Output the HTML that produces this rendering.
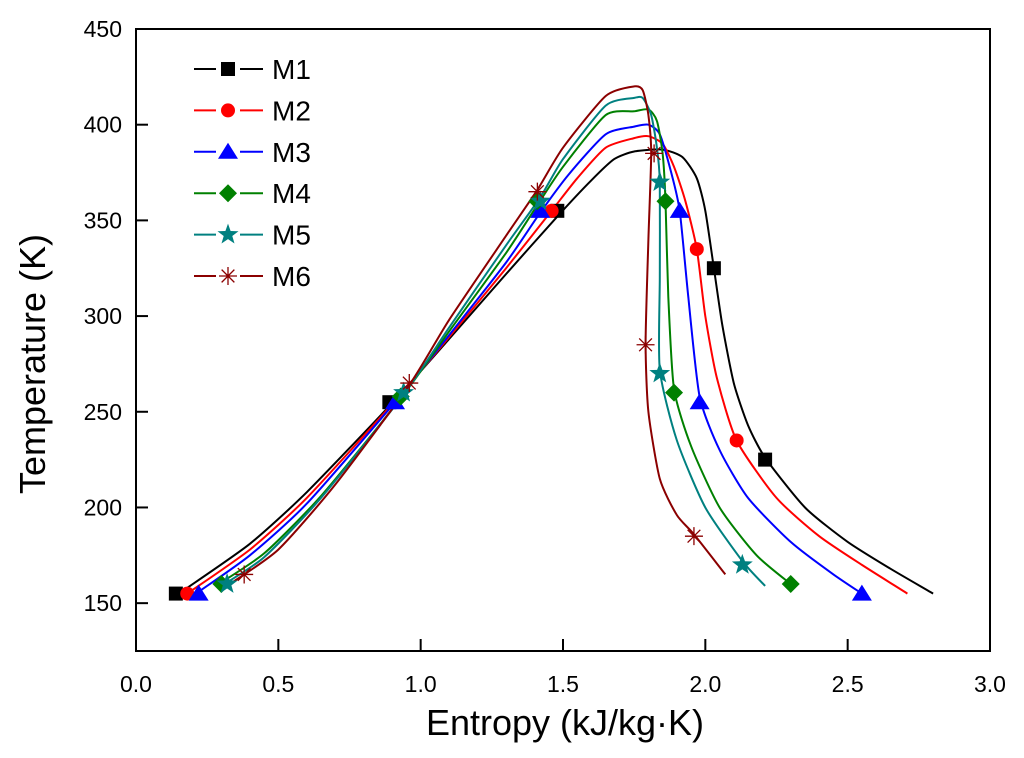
<!DOCTYPE html>
<html><head><meta charset="utf-8"><style>
body{margin:0;background:#fff;}
svg{display:block;font-family:"Liberation Sans",Arial,sans-serif;}
</style></head><body>
<svg id="chart" width="1024" height="758" viewBox="0 0 1024 758">
<g id="marks"></g>
<g id="axes"></g>
<g id="legend"></g>
</svg>
<script>
const seriesNames=["M1","M2","M3","M4","M5","M6"];
const seriesColors=["#000000","#ff0000","#0000ff","#008000","#008080","#8b0000"];
const markerTypes=["square","circle","triangle","diamond","star","asterisk"];
const xTicks=[0.0,0.5,1.0,1.5,2.0,2.5,3.0];
const yTicks=[150,200,250,300,350,400,450];
const m1Line=[[0.17,157],[0.4,181],[0.6,208],[0.89,253],[1.1,288],[1.3,322],[1.48,352],[1.6,371],[1.68,382],[1.75,386],[1.85,387],[1.92,383],[1.97,372],[2.0,355],[2.03,325],[2.06,295],[2.1,265],[2.15,243],[2.21,226],[2.35,200],[2.5,182],[2.65,168],[2.8,155]];
const m2Line=[[0.19,156],[0.4,178],[0.6,205],[0.9,254],[1.1,289],[1.3,325],[1.46,355],[1.55,372],[1.65,388],[1.75,393],[1.8,394],[1.85,390],[1.89,378],[1.93,360],[1.97,335],[2.0,300],[2.04,268],[2.11,235],[2.25,205],[2.4,185],[2.55,170],[2.71,155]];
const m3Line=[[0.23,157],[0.4,175],[0.6,202],[0.91,255],[1.1,290],[1.3,328],[1.42,354],[1.52,374],[1.65,395],[1.75,399],[1.8,400],[1.84,395],[1.88,375],[1.91,355],[1.94,310],[1.98,258],[2.05,230],[2.15,205],[2.3,182],[2.45,165],[2.55,155]];
const m4Line=[[0.28,159],[0.45,176],[0.65,206],[0.93,257],[1.1,292],[1.3,333],[1.41,358],[1.5,378],[1.65,405],[1.75,407],[1.8,408],[1.83,402],[1.85,385],[1.86,360],[1.87,310],[1.89,262],[1.95,232],[2.05,200],[2.18,175],[2.3,160]];
const m5Line=[[0.3,159],[0.45,174],[0.65,205],[0.94,259],[1.1,294],[1.3,337],[1.42,362],[1.5,382],[1.65,410],[1.75,414],[1.78,414],[1.81,405],[1.83,388],[1.84,370],[1.84,320],[1.84,272],[1.9,235],[2.0,200],[2.13,172],[2.21,159]];
const m6Line=[[0.33,160],[0.5,178],[0.7,212],[0.96,264],[1.1,298],[1.3,342],[1.41,366],[1.5,388],[1.65,415],[1.75,420],[1.78,418],[1.8,405],[1.81,385],[1.8,340],[1.79,286],[1.8,250],[1.84,215],[1.9,196],[1.96,186],[2.07,165]];
const m1Marks=[[0.14,155],[0.89,255],[1.48,355],[2.03,325],[2.21,225]];
const m2Marks=[[0.18,155],[1.46,355],[1.97,335],[2.11,235]];
const m3Marks=[[0.22,155],[0.91,255],[1.42,355],[1.91,355],[1.98,255],[2.55,155]];
const m4Marks=[[0.3,160],[0.93,258],[1.41,360],[1.86,360],[1.89,260],[2.3,160]];
const m5Marks=[[0.32,160],[0.94,260],[1.42,360],[1.84,370],[1.84,270],[2.13,170]];
const m6Marks=[[0.38,165],[0.96,265],[1.41,365],[1.82,385],[1.79,285],[1.96,185]];
const lines=[m1Line,m2Line,m3Line,m4Line,m5Line,m6Line];
const marks=[m1Marks,m2Marks,m3Marks,m4Marks,m5Marks,m6Marks];

const L=136,R=990,T=29,B=651,X0=0,X1=3,Y0=125,Y1=450;
const sx=v=>L+(v-X0)/(X1-X0)*(R-L);
const sy=v=>B-(v-Y0)/(Y1-Y0)*(B-T);
const NS="http://www.w3.org/2000/svg";
function mk(tag,attrs,parent){const e=document.createElementNS(NS,tag);for(const k in attrs)e.setAttribute(k,attrs[k]);parent.appendChild(e);return e;}
function marker(type,x,y,c,parent){
  let e;
  if(type==="square"){e=mk("rect",{x:x-7,y:y-7,width:14,height:14,fill:c},parent);}
  else if(type==="circle"){e=mk("circle",{cx:x,cy:y,r:7,fill:c},parent);}
  else if(type==="triangle"){e=mk("polygon",{points:`${x},${y-9} ${x-10},${y+7} ${x+10},${y+7}`,fill:c},parent);}
  else if(type==="diamond"){e=mk("polygon",{points:`${x},${y-9} ${x+9},${y} ${x},${y+9} ${x-9},${y}`,fill:c},parent);}
  else if(type==="star"){let p=[];for(let i=0;i<10;i++){const r=i%2?4.5:11,a=-Math.PI/2+i*Math.PI/5;p.push((x+r*Math.cos(a)).toFixed(1)+","+(y+r*Math.sin(a)).toFixed(1));}e=mk("polygon",{points:p.join(" "),fill:c},parent);}
  else {let d="";for(let i=0;i<4;i++){const a=i*Math.PI/4;d+=`M${x-9*Math.cos(a)},${y-9*Math.sin(a)}L${x+9*Math.cos(a)},${y+9*Math.sin(a)}`;}e=mk("path",{d:d,stroke:c,"stroke-width":1.3,fill:"none"},parent);}
  return e;
}
function smoothPath(pts){
  const P=pts.map(q=>[sx(q[0]),sy(q[1])]);
  let d=`M${P[0][0].toFixed(1)},${P[0][1].toFixed(1)}`;
  for(let i=0;i<P.length-1;i++){
    const p0=P[Math.max(0,i-1)],p1=P[i],p2=P[i+1],p3=P[Math.min(P.length-1,i+2)];
    const t=0.11;
    const c1=[p1[0]+(p2[0]-p0[0])*t,p1[1]+(p2[1]-p0[1])*t];
    const c2=[p2[0]-(p3[0]-p1[0])*t,p2[1]-(p3[1]-p1[1])*t];
    d+=`C${c1[0].toFixed(1)},${c1[1].toFixed(1)} ${c2[0].toFixed(1)},${c2[1].toFixed(1)} ${p2[0].toFixed(1)},${p2[1].toFixed(1)}`;
  }
  return d;
}
const gm=document.getElementById("marks");
lines.forEach((pts,i)=>{
  const p=mk("path",{d:smoothPath(pts),fill:"none",stroke:seriesColors[i],"stroke-width":2,"stroke-linejoin":"round"},gm);
  
  
});
marks.forEach((pts,i)=>{
  pts.forEach(q=>{
    const e=marker(markerTypes[i],sx(q[0]),sy(q[1]),seriesColors[i],gm);
    
    
  });
});
const ga=document.getElementById("axes");
const frame=mk("rect",{x:L,y:T,width:R-L,height:B-T,fill:"none",stroke:"#000","stroke-width":2},ga);


xTicks.forEach(v=>{
  const t=mk("line",{x1:sx(v),x2:sx(v),y1:B,y2:B-12,stroke:"#000","stroke-width":2},ga);
  
  
  const l=mk("text",{x:sx(v),y:B+41,"text-anchor":"middle","font-size":23},ga);
  l.textContent=v.toFixed(1);
  
  
});
yTicks.forEach(v=>{
  const t=mk("line",{x1:L,x2:L+12,y1:sy(v),y2:sy(v),stroke:"#000","stroke-width":2},ga);
  
  
  const l=mk("text",{x:L-14,y:sy(v)+8,"text-anchor":"end","font-size":23},ga);
  l.textContent=String(v);
  
  
});
const xt=mk("text",{x:565,y:735,"text-anchor":"middle","font-size":36},ga);
xt.textContent="Entropy (kJ/kg·K)";


const yt=mk("text",{x:0,y:0,"text-anchor":"middle","font-size":36,transform:"translate(45,364) rotate(-90)"},ga);
yt.textContent="Temperature (K)";


const gl=document.getElementById("legend");
seriesNames.forEach((n,i)=>{
  const y=69+i*41.4;
  const g=mk("g",{},gl);
  
  
  mk("line",{x1:194,x2:263,y1:y,y2:y,stroke:seriesColors[i],"stroke-width":2},g);
  mk("rect",{x:216,y:y-11,width:24,height:22,fill:"#fff"},g);
  marker(markerTypes[i],228,y,seriesColors[i],g);
  const t=mk("text",{x:272,y:y+10,"font-size":28},g);
  t.textContent=n;
});
</script>
</body></html>
